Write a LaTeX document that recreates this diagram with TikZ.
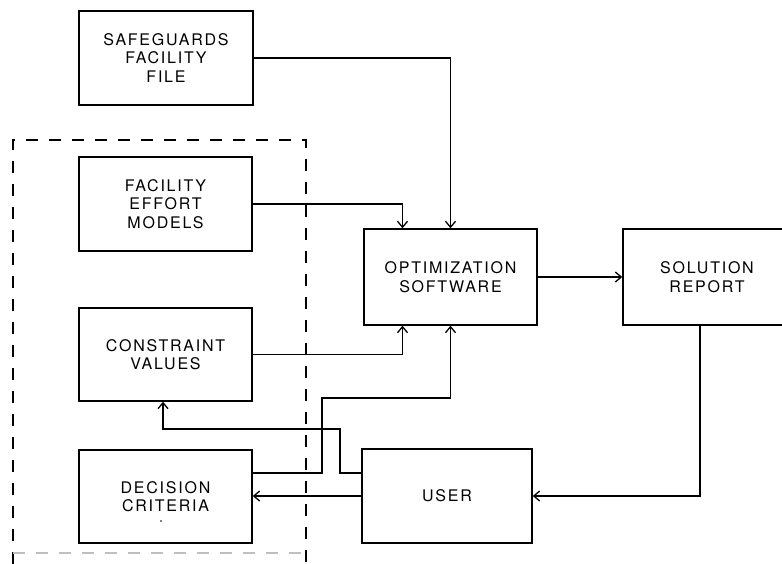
\documentclass[tikz,border=0pt]{standalone}
\usepackage{fontspec}
\setmainfont{TeX Gyre Heros}[LetterSpace=11]
\usetikzlibrary{arrows.meta,calc}
\begin{document}
\begin{tikzpicture}[x=1pt,y=-1pt,
  blk/.style={draw, line width=1.4pt, rectangle, align=center, inner sep=0pt,
    font=\fontsize{16}{18.5}\selectfont},
  conn/.style={line width=1.3pt, -{Straight Barb[length=6pt,width=10pt,line width=1.3pt]}},
  dash box/.style={line width=1.2pt, dash pattern=on 12pt off 11pt}]
\clip (0,0) rectangle (782,564);
\fill[white] (0,0) rectangle (782,564);
% dashed enclosure
\draw[dash box] (13,564) -- (13,140) -- (306,140) -- (306,564);
\draw[dash box, gray!50] (13,553) -- (306,553);
% blocks
\node[blk, minimum width=174pt, minimum height=94pt] (saf) at (166,58) {SAFEGUARDS\\FACILITY\\FILE};
\node[blk, minimum width=173pt, minimum height=94pt] (fem) at (165.5,204) {FACILITY\\EFFORT\\MODELS};
\node[blk, minimum width=173pt, minimum height=93pt] (cv) at (165.5,354.5) {CONSTRAINT\\VALUES};
\node[blk, minimum width=173pt, minimum height=93pt] (dc) at (165.5,496.5) {DECISION\\CRITERIA};
\node[blk, minimum width=173pt, minimum height=96pt] (opt) at (450.5,277) {OPTIMIZATION\\SOFTWARE};
\node[blk, minimum width=168pt, minimum height=96pt] (sol) at (707,277) {SOLUTION\\REPORT};
\node[blk, minimum width=170pt, minimum height=94pt] (user) at (447,496) {USER};
\fill (161,521) circle (0.9pt);
% junction points
\coordinate (j1) at (322,398);
\coordinate (j2) at (340,429);
% connectors
\draw[conn] (saf.east) -| (opt.north);
\draw[conn] (fem.east) -| ([xshift=-48pt]opt.north);
\draw[conn] (cv.east) -| ([xshift=-48pt]opt.south);
\draw[conn] ([yshift=23.5pt]dc.east) -| (j1) -| (opt.south);
\draw[conn] ([yshift=23pt]user.west) -| (j2) -| ([xshift=-2.5pt]cv.south);
\draw[conn] (user.west) -- (user.west -| dc.east);
\draw[conn] ([xshift=-7pt]sol.south) |- (user.east);
\draw[conn] (opt.east) -- (opt.east -| sol.west);
\end{tikzpicture}
\end{document}
